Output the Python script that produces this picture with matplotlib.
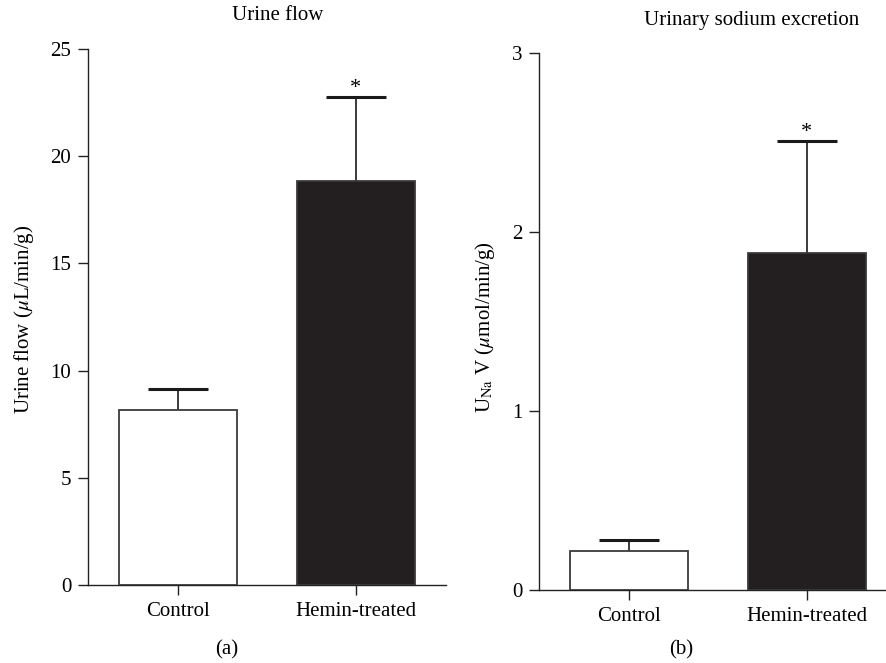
import matplotlib
matplotlib.use('Agg')
import matplotlib.pyplot as plt

plt.rcParams['font.family'] = ['Liberation Serif', 'DejaVu Serif']
plt.rcParams['mathtext.fontset'] = 'stix'
plt.rcParams['font.size'] = 15

# Datos
groups = ['Control', 'Hemin-treated']
urine_flow = [8.17, 18.86]
urine_flow_err = [0.98, 3.92]
sodium = [0.218, 1.88]
sodium_err = [0.06, 0.63]
significant = [False, True]

bar_fill = ['white', '#231f20']
edge = '#3a3a3a'


def panel(ax, vals, errs, ymax, ystep):
    x = list(range(len(vals)))
    ax.bar(x, vals, width=0.66, color=bar_fill, edgecolor=edge, linewidth=1.3, zorder=3)
    # solo barra de error superior
    for xi, v, e, sig in zip(x, vals, errs, significant):
        ax.vlines(xi, v, v + e, color='#1a1a1a', linewidth=1.2, zorder=2)
        ax.hlines(v + e, xi - 0.17, xi + 0.17, color='#1a1a1a', linewidth=2.2, zorder=2)
        if sig:
            ax.annotate('*', xy=(xi, v + e), xytext=(0, -1), textcoords='offset points',
                        ha='center', va='bottom', fontsize=16)
    ax.set_xlim(-0.506, 1.506)
    ax.set_ylim(0, ymax)
    ax.set_yticks([i * ystep for i in range(int(round(ymax / ystep)) + 1)])
    ax.set_xticks(x)
    ax.set_xticklabels(groups)
    for s in ['top', 'right']:
        ax.spines[s].set_visible(False)
    for s in ['left', 'bottom']:
        ax.spines[s].set_linewidth(1.0)
        ax.spines[s].set_color('#222222')
    ax.tick_params(axis='y', direction='out', length=7, width=1.0, pad=5, colors='#222222',
                   labelcolor='black')
    ax.tick_params(axis='x', direction='out', length=7, width=1.0, pad=5, colors='#222222',
                   labelcolor='black')


fig = plt.figure(figsize=(8.86, 6.63), dpi=100)

ax1 = fig.add_axes([88 / 886, 1 - 585 / 663, 358 / 886, 536 / 663])
panel(ax1, urine_flow, urine_flow_err, 25, 5)

ax2 = fig.add_axes([539 / 886, 1 - 590 / 663, 358 / 886, 537 / 663])
panel(ax2, sodium, sodium_err, 3, 1)

fig.text(278 / 886, 1 - 15 / 663, 'Urine flow', ha='center', va='center', fontsize=15)
fig.text(752 / 886, 1 - 20 / 663, 'Urinary sodium excretion', ha='center', va='center', fontsize=15)

fig.text(24 / 886, 1 - 319 / 663, r'Urine flow ($\mu$L/min/g)', rotation=90,
         ha='center', va='center', fontsize=15)
fig.text(485 / 886, 1 - 327 / 663, r'U$_{\mathrm{Na}}$ V ($\mu$mol/min/g)', rotation=90,
         ha='center', va='center', fontsize=15)

fig.text(227 / 886, 1 - 650 / 663, '(a)', ha='center', va='center', fontsize=15)
fig.text(681 / 886, 1 - 650 / 663, '(b)', ha='center', va='center', fontsize=15)

fig.savefig('out.png', dpi=100)
